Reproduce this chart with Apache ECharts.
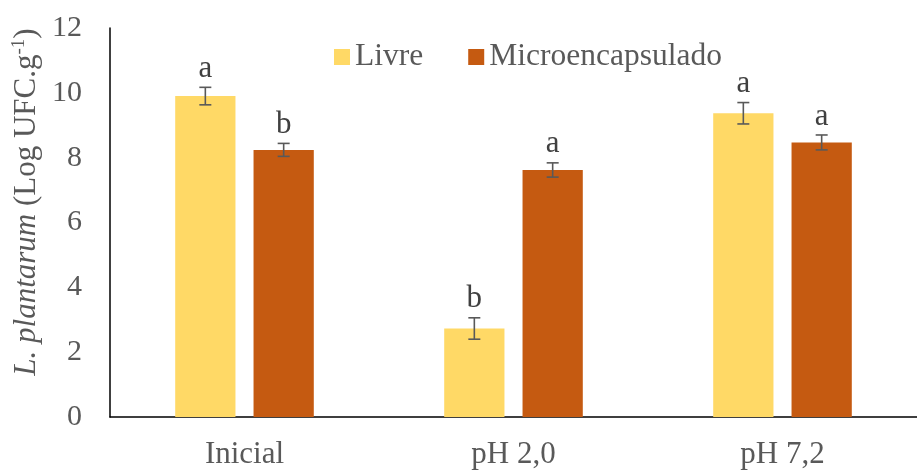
<!DOCTYPE html>
<html><head><meta charset="utf-8">
<script src="https://cdn.jsdelivr.net/npm/echarts@6/dist/echarts.min.js"></script>
<style>html,body{margin:0;padding:0;background:#fff;overflow:hidden}#c{width:917px;height:471px}</style>
</head><body><div id="c"></div>
<script>
var categories = ['Inicial', 'pH 2,0', 'pH 7,2'];
var seriesNames = ['Livre', 'Microencapsulado'];
var livre = [9.90, 2.73, 9.37];
var micro = [8.24, 7.62, 8.47];
var livreErr = [0.27, 0.33, 0.33];
var microErr = [0.20, 0.22, 0.23];
var livreLetters = ['a', 'b', 'a'];
var microLetters = ['b', 'a', 'a'];
var yTicks = [0, 2, 4, 6, 8, 10, 12];

var FONT = '"Liberation Serif", "Times New Roman", serif';
var colors = ['#FFD966', '#C55A11'];
var BAR_W = 0.224, GAP = 0.30;

function errSeries(vals, errs, letters, idx) {
  return {
    type: 'custom',
    z: 5,
    silent: true,
    data: vals.map(function (v, i) { return [i, v, errs[i]]; }),
    renderItem: function (params, api) {
      var ci = api.value(0), v = api.value(1), e = api.value(2);
      var band = api.size([1, 0])[0];
      var bw = band * BAR_W;
      var off = (bw + bw * GAP) / 2 * (idx === 0 ? -1 : 1);
      var top = api.coord([ci, v + e]);
      var bot = api.coord([ci, v - e]);
      var x = top[0] + off;
      var cap = 6;
      var st = { stroke: '#595959', lineWidth: 1.6 };
      return {
        type: 'group',
        children: [
          { type: 'line', shape: { x1: x, y1: top[1], x2: x, y2: bot[1] }, style: st },
          { type: 'line', shape: { x1: x - cap, y1: top[1], x2: x + cap, y2: top[1] }, style: st },
          { type: 'line', shape: { x1: x - cap, y1: bot[1], x2: x + cap, y2: bot[1] }, style: st },
          { type: 'text', style: { text: letters[ci], x: x, y: top[1] - 3, align: 'center', verticalAlign: 'bottom', fontFamily: FONT, fontSize: 31, fill: '#404040' } }
        ]
      };
    }
  };
}

var chart = echarts.init(document.getElementById('c'));
chart.setOption({
  animation: false,
  color: colors,
  grid: { left: 110, right: -11, top: 28, bottom: 54, containLabel: false },
  legend: {
    data: seriesNames,
    top: 36,
    left: 329,
    itemWidth: 16, itemHeight: 16, itemGap: 45,
    icon: 'rect',
    textStyle: { fontFamily: FONT, fontSize: 31.5, color: '#595959' }
  },
  graphic: [{
    type: 'text',
    x: 27, y: 202,
    rotation: Math.PI / 2,
    style: {
      text: '{i|L. plantarum}{n| (Log UFC.g}{s|-1}{n|)}',
      align: 'center', verticalAlign: 'middle',
      rich: {
        i: { fontFamily: FONT, fontSize: 31, fontStyle: 'italic', fill: '#595959', lineHeight: 34 },
        n: { fontFamily: FONT, fontSize: 31, fill: '#595959', lineHeight: 34 },
        s: { fontFamily: FONT, fontSize: 19, fill: '#595959', verticalAlign: 'top', lineHeight: 34 }
      }
    }
  }],
  xAxis: {
    type: 'category',
    data: categories,
    axisLine: { lineStyle: { color: '#000', width: 1.5 } },
    axisTick: { show: false },
    axisLabel: { fontFamily: FONT, fontSize: 31, color: '#595959', margin: 22 }
  },
  yAxis: {
    type: 'value',
    min: 0, max: 12, interval: 2,
    axisLine: { show: true, lineStyle: { color: '#000', width: 1.5 } },
    axisTick: { show: false },
    splitLine: { show: false },
    axisLabel: { fontFamily: FONT, fontSize: 30, color: '#595959', margin: 28,
      formatter: function (v) { return yTicks.indexOf(v) >= 0 ? String(v) : ''; } }
  },
  series: [
    { name: seriesNames[0], type: 'bar', data: livre, barWidth: '22.4%', barGap: '30%', itemStyle: { color: colors[0] } },
    { name: seriesNames[1], type: 'bar', data: micro, barWidth: '22.4%', barGap: '30%', itemStyle: { color: colors[1] } },
    errSeries(livre, livreErr, livreLetters, 0),
    errSeries(micro, microErr, microLetters, 1)
  ]
});
</script></body></html>
